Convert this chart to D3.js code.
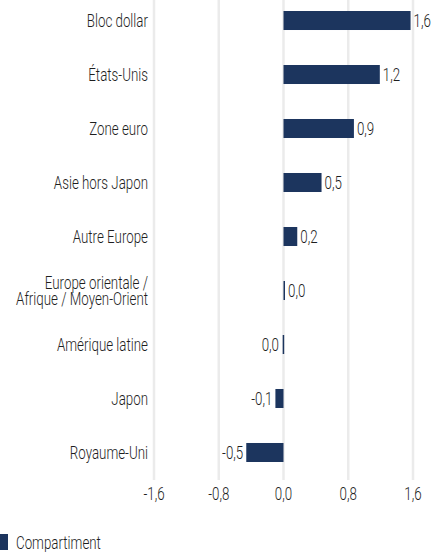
<!DOCTYPE html>
<html><head><meta charset="utf-8">
<script src="https://cdn.jsdelivr.net/npm/d3@7"></script>
<style>
body{margin:0;background:#fff;}
text{font-family:"Roboto","Liberation Sans",sans-serif;font-weight:300;fill:#1e1e1e;}
</style></head>
<body><svg id="c" width="433" height="552"></svg>
<script>
const categories = ["Bloc dollar","États-Unis","Zone euro","Asie hors Japon","Autre Europe","Europe orientale / Afrique / Moyen-Orient","Amérique latine","Japon","Royaume-Uni"];
const values = [1.57,1.19,0.87,0.47,0.17,0.01,-0.01,-0.1,-0.46];
const valueLabels = ["1,6","1,2","0,9","0,5","0,2","0,0","0,0","-0,1","-0,5"];
const tickValues = [-1.6,-0.8,0,0.8,1.6];
const tickLabels = ["-1,6","-0,8","0,0","0,8","1,6"];
const seriesName = "Compartiment";

const svg = d3.select("#c");
const color = "#1c355e";
const FS = 18.5;
const x = d3.scaleLinear().domain([-1.6,1.6]).range([154,413]);
const y = d3.scaleBand().domain(categories).range([-7.9,480.9]).paddingInner(0.648).paddingOuter(0.35);

// measure condensation factor so "Compartiment" spans ~85px
const probe = svg.append("text").attr("font-size",FS).text(seriesName);
const SX = 85 / probe.node().getComputedTextLength();
probe.remove();

function ctext(g, tx, ty, str, anchor){
  return g.append("text").attr("transform",`translate(${tx},${ty}) scale(${SX},1)`)
    .attr("font-size",FS).attr("text-anchor",anchor||"start").text(str);
}

// gridlines
svg.append("g").selectAll("line").data(tickValues).join("line")
  .attr("x1",d=>x(d)).attr("x2",d=>x(d)).attr("y1",0).attr("y2",480)
  .attr("stroke","#ebebeb").attr("stroke-width",2.5);

// x tick labels
const gt = svg.append("g");
tickValues.forEach((d,i)=>ctext(gt, x(d), 499.5, tickLabels[i], "middle"));

// bars
svg.append("g").selectAll("rect").data(values).join("rect")
  .attr("x",d=>Math.min(x(d),x(0)))
  .attr("y",(d,i)=>y(categories[i]))
  .attr("width",d=>Math.max(1.5,Math.abs(x(d)-x(0))))
  .attr("height",y.bandwidth())
  .attr("fill",color);

// value labels
const gv = svg.append("g");
values.forEach((d,i)=>{
  const cy = y(categories[i])+y.bandwidth()/2+6.5;
  if(d>=0) ctext(gv, Math.max(x(d),x(0)+1.5)+3, cy, valueLabels[i], "start");
  else ctext(gv, Math.min(x(d),x(0)-1.5)-3, cy, valueLabels[i], "end");
});

// category labels
const gc = svg.append("g");
categories.forEach(d=>{
  const cy = y(d)+y.bandwidth()/2;
  if(d.startsWith("Europe orientale")){
    const t = gc.append("text").attr("transform",`translate(148,${cy}) scale(${SX},1)`)
      .attr("font-size",FS).attr("text-anchor","end");
    t.append("tspan").attr("x",0).attr("y",-1.5).text("Europe orientale /");
    t.append("tspan").attr("x",0).attr("y",14.5).text("Afrique / Moyen-Orient");
  } else ctext(gc, 148, cy+6.5, d, "end");
});

// legend
svg.append("rect").attr("x",-8).attr("y",534).attr("width",16).attr("height",16).attr("fill",color);
ctext(svg, 16, 548.5, seriesName, "start");
</script></body></html>
